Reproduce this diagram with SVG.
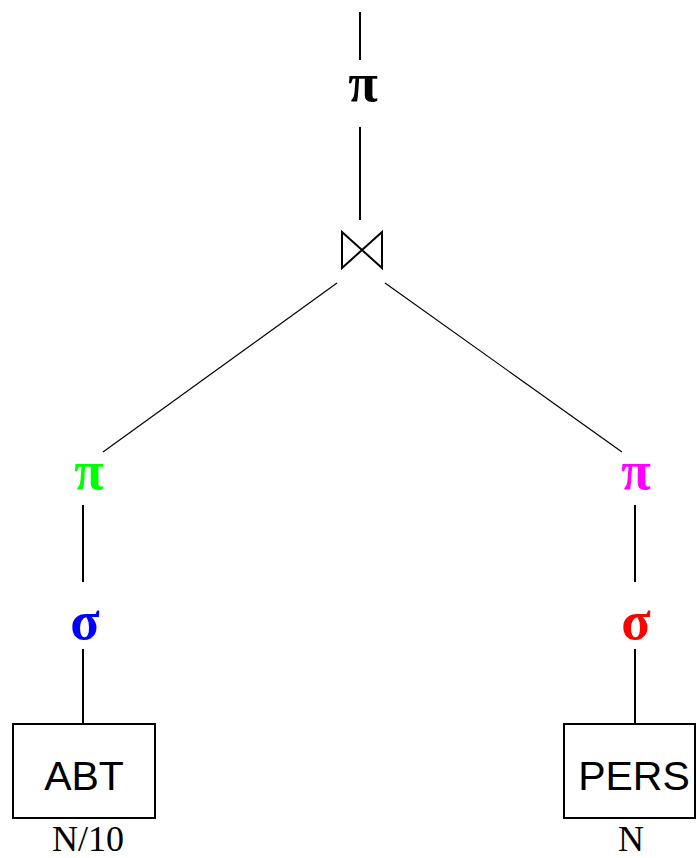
<svg xmlns="http://www.w3.org/2000/svg" width="696" height="858" viewBox="0 0 696 858">
<style>
.op{font-family:"Liberation Serif","DejaVu Serif",serif;font-size:54px;font-weight:bold;text-anchor:middle}
.rel{font-family:"Liberation Sans",Arial,sans-serif;font-size:41px;text-anchor:middle}
.card{font-family:"Liberation Serif","Times New Roman",serif;font-size:36px;text-anchor:middle}
.v{stroke:#000;stroke-width:2;fill:none}
.d{stroke:#000;stroke-width:1.2;fill:none}
</style>
<rect width="696" height="858" fill="#fff"/>
<g id="connectors">
<line class="v" x1="360" y1="12" x2="360" y2="60"/>
<line class="v" x1="360" y1="127" x2="360" y2="220"/>
<line class="d" x1="337" y1="283" x2="103" y2="452"/>
<line class="d" x1="385" y1="283" x2="622" y2="452"/>
<line class="v" x1="83" y1="505" x2="83" y2="582"/>
<line class="v" x1="83" y1="649" x2="83" y2="724"/>
<line class="v" x1="635" y1="505" x2="635" y2="582"/>
<line class="v" x1="635" y1="649" x2="635" y2="724"/>
</g>
<g id="proj-top"><text class="op" x="363" y="101" fill="#000">π</text></g>
<g id="join"><path class="v" d="M342,232 L342,268 L382,232 L382,268 Z" stroke-width="1.8"/></g>
<g id="proj-left"><text class="op" x="89" y="489" fill="#00ff00">π</text></g>
<g id="sel-left"><text class="op" x="85" y="639" fill="#0000ff">σ</text></g>
<g id="proj-right"><text class="op" x="636" y="489" fill="#ff00ff">π</text></g>
<g id="sel-right"><text class="op" x="636" y="639" fill="#ff0000">σ</text></g>
<g id="abt">
<rect x="13" y="724" width="142" height="94" fill="#fff" stroke="#000" stroke-width="2"/>
<text class="rel" x="84" y="790">ABT</text>
<text class="card" x="88" y="851">N/10</text>
</g>
<g id="pers">
<rect x="564" y="724" width="131" height="94" fill="#fff" stroke="#000" stroke-width="2"/>
<text class="rel" x="634" y="790">PERS</text>
<text class="card" x="631" y="851">N</text>
</g>
</svg>
